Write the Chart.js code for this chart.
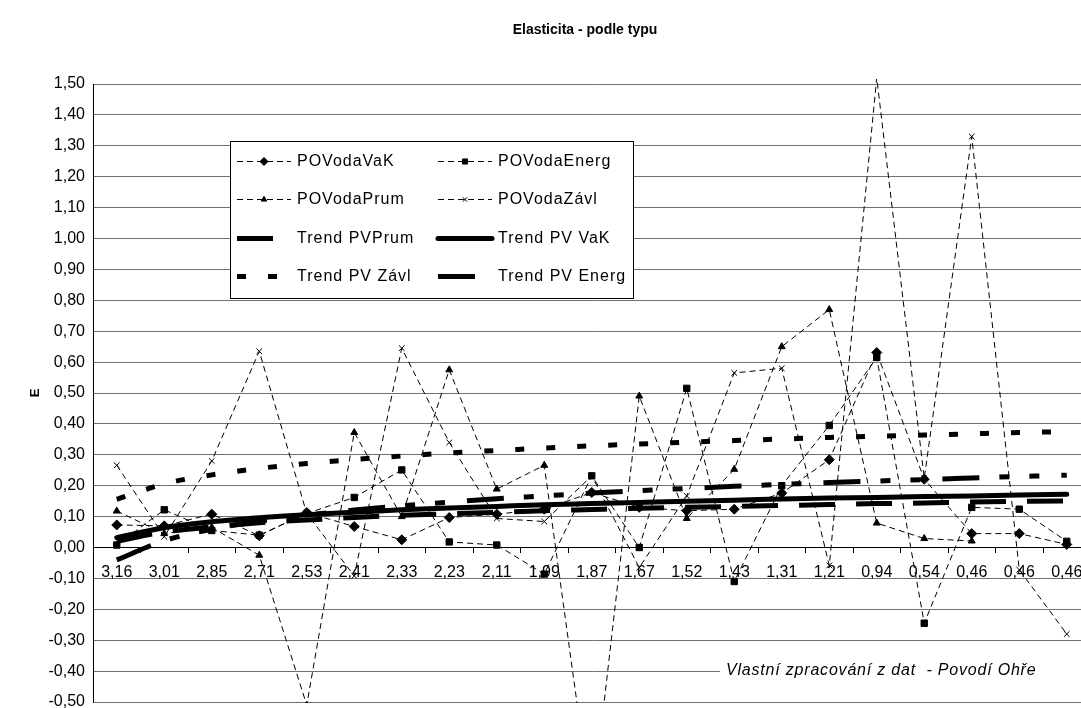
<!DOCTYPE html>
<html>
<head>
<meta charset="utf-8">
<title>Elasticita - podle typu</title>
<script src="https://cdn.jsdelivr.net/npm/chart.js@4.4.1/dist/chart.umd.min.js"></script>
<style>
  html, body { margin: 0; padding: 0; background: #fff; overflow: hidden; }
  #wrap { width: 1081px; height: 708px; overflow: hidden; }
  canvas { display: block; }
</style>
</head>
<body>
<div id="wrap"><canvas id="graf" width="1100" height="708"></canvas></div>
<script>
// popisky a data grafu
var nadpis = 'Elasticita - podle typu';
var zdroj = 'Vlastní zpracování z dat  - Povodí Ohře';
var kategorie = ['3,16', '3,01', '2,85', '2,71', '2,53', '2,41', '2,33', '2,23', '2,11', '1,99', '1,87',
                 '1,67', '1,52', '1,43', '1,31', '1,21', '0,94', '0,54', '0,46', '0,46', '0,46'];

var povodaVaK   = [0.073, 0.070, 0.108, 0.038, 0.113, 0.068, 0.025, 0.097, 0.108, 0.124, 0.178,
                   0.130, 0.119, 0.124, 0.176, 0.284, 0.631, 0.221, 0.045, 0.045, 0.010];
var povodaEnerg = [0.008, 0.122, 0.055, 0.040, 0.110, 0.162, 0.251, 0.018, 0.008, -0.086, 0.232,
                   0.000, 0.515, -0.110, 0.200, 0.395, 0.615, -0.245, 0.130, 0.124, 0.020];
var povodaPrum  = [0.118, 0.045, 0.065, -0.025, -0.510, 0.372, 0.100, 0.575, 0.189, 0.266, -0.850,
                   0.490, 0.094, 0.253, 0.650, 0.770, 0.079, 0.029, 0.021, null, null];
var povodaZavl  = [0.266, 0.035, 0.280, 0.635, 0.110, -0.092, 0.645, 0.340, 0.094, 0.084, 0.232,
                   -0.065, 0.167, 0.565, 0.580, -0.058, 1.520, 0.224, 1.330, -0.072, -0.280];

// spojnice trendu
var trendPrum  = [0.020, 0.050, 0.067, 0.080, 0.089, 0.097, 0.104, 0.109, 0.114, 0.119, 0.123,
                  0.127, 0.130, 0.133, 0.136, 0.139, 0.142, 0.144, 0.147, 0.149, 0.151];
var trendVaK   = [0.032, 0.064, 0.083, 0.096, 0.106, 0.114, 0.122, 0.128, 0.133, 0.138, 0.142,
                  0.146, 0.150, 0.153, 0.157, 0.160, 0.162, 0.165, 0.167, 0.170, 0.172];
var trendZavl  = [0.156, 0.206, 0.235, 0.256, 0.272, 0.285, 0.296, 0.306, 0.314, 0.322, 0.329,
                  0.335, 0.341, 0.346, 0.351, 0.356, 0.360, 0.364, 0.368, 0.372, 0.375];
var trendEnerg = [-0.040, 0.022, 0.059, 0.085, 0.105, 0.121, 0.135, 0.147, 0.158, 0.167, 0.176,
                  0.184, 0.191, 0.198, 0.204, 0.210, 0.215, 0.220, 0.225, 0.230, 0.234];

var pismo = '"Liberation Sans", Arial, sans-serif';
Chart.defaults.font.family = pismo;
Chart.defaults.color = '#000';

// datova rada s prerusovanou carou a znackou
function rada(label, data, styl, polomer) {
    return {
        label: label, data: data,
        borderColor: '#000', backgroundColor: '#000', borderWidth: 1, borderDash: [6, 4],
        pointStyle: styl, pointRadius: polomer, pointBorderWidth: 1,
        pointBackgroundColor: '#000', pointBorderColor: '#000',
        tension: 0, fill: false, spanGaps: false, order: 2,
        clip: { left: 5, top: 5, right: 5, bottom: 1 }
    };
}

// spojnice trendu - silna cara
function trend(label, data, dash, cap) {
    return {
        label: label, data: data,
        borderColor: '#000', backgroundColor: '#000', borderWidth: 5, borderDash: dash,
        borderCapStyle: cap || 'butt', pointRadius: 0, cubicInterpolationMode: 'monotone',
        fill: false, order: 1
    };
}

// legenda v ramecku, nadpis a poznamka o zdroji
var popisky = {
    id: 'popisky',
    afterDraw: function(chart) {
        var ctx = chart.ctx;
        var sets = chart.data.datasets;
        ctx.save();

        ctx.font = 'bold 14px ' + pismo;
        ctx.textAlign = 'center';
        ctx.textBaseline = 'middle';
        ctx.fillStyle = '#000';
        ctx.fillText(nadpis, 585, 30);

        ctx.fillStyle = '#fff';
        ctx.fillRect(720, 660, 400, 24);
        ctx.fillStyle = '#000';
        ctx.font = 'italic 16px ' + pismo;
        ctx.textAlign = 'left';
        ctx.letterSpacing = '0.8px';
        ctx.fillText(zdroj, 726, 671);

        ctx.fillStyle = '#fff';
        ctx.fillRect(230, 141, 403, 158);
        ctx.strokeStyle = '#000';
        ctx.lineWidth = 1;
        ctx.strokeRect(230.5, 141.5, 403, 157);

        ctx.font = '16px ' + pismo;
        ctx.letterSpacing = '1px';
        for (var i = 0; i < sets.length; i++) {
            var ds = sets[i];
            var x0 = (i % 2 == 0) ? 237 : 438;
            var y = Math.round(161 + Math.floor(i / 2) * 38.4) + 0.5;
            ctx.save();
            ctx.strokeStyle = '#000';
            ctx.lineWidth = ds.borderWidth;
            ctx.setLineDash(ds.borderDash || []);
            ctx.lineCap = ds.borderCapStyle || 'butt';
            ctx.beginPath();
            ctx.moveTo(x0, y);
            ctx.lineTo(x0 + 54, y);
            ctx.stroke();
            ctx.setLineDash([]);
            if (ds.pointRadius > 0) {
                ctx.fillStyle = '#000';
                ctx.lineWidth = 1;
                Chart.helpers.drawPoint(ctx, { pointStyle: ds.pointStyle, radius: ds.pointRadius * 0.8, borderWidth: 1, rotation: 0 }, x0 + 27, y);
            }
            ctx.restore();
            ctx.fillStyle = '#000';
            ctx.textBaseline = 'middle';
            ctx.fillText(ds.label, x0 + 60, y);
        }
        ctx.restore();
    }
};

var ctx = document.getElementById('graf');
new Chart(ctx, {
    type: 'line',
    data: {
        labels: kategorie,
        datasets: [
            rada('POVodaVaK', povodaVaK, 'rectRot', 5),
            rada('POVodaEnerg', povodaEnerg, 'rect', 4.5),
            rada('POVodaPrum', povodaPrum, 'triangle', 4),
            rada('POVodaZávl', povodaZavl, 'crossRot', 4),
            trend('Trend PVPrum', trendPrum, [36, 21]),
            trend('Trend PV VaK', trendVaK, [], 'round'),
            trend('Trend PV Závl', trendZavl, [9, 22]),
            trend('Trend PV Energ', trendEnerg, [37, 20, 10, 20, 10, 22])
        ]
    },
    options: {
        responsive: false,
        animation: false,
        devicePixelRatio: 1,
        layout: { padding: { top: 84, bottom: 5, left: 0, right: 9.5 } },
        plugins: {
            legend: { display: false },
            tooltip: { enabled: false },
            title: { display: false }
        },
        scales: {
            x: {
                type: 'category',
                position: { y: 0 },
                offset: true,
                grid: { offset: true, drawOnChartArea: false, drawTicks: true, tickLength: 5, tickColor: '#000', color: '#000' },
                border: { display: true, color: '#000', width: 1 },
                ticks: { color: '#000', font: { size: 16 }, padding: 10, autoSkip: false, maxRotation: 0 },
                afterFit: function(s) { s.paddingLeft = 0; s.paddingRight = 0; }
            },
            y: {
                min: -0.5,
                max: 1.5,
                grid: { color: '#707070', lineWidth: 1, drawTicks: false },
                border: { display: true, color: '#000', width: 1 },
                ticks: {
                    stepSize: 0.1, color: '#000', font: { size: 16 }, padding: 8,
                    callback: function(v) {
                        var r = Math.round(v * 100) / 100;
                        if (Math.abs(r) < 1e-9) r = 0;
                        return r.toFixed(2).replace('.', ',');
                    }
                },
                title: { display: true, text: 'E', color: '#000', font: { size: 13, weight: 'bold' }, padding: { top: 28, bottom: 0 } },
                afterFit: function(s) { s.width = 93; s.paddingTop = 0; s.paddingBottom = 0; }
            }
        }
    },
    plugins: [popisky]
});
</script>
</body>
</html>
